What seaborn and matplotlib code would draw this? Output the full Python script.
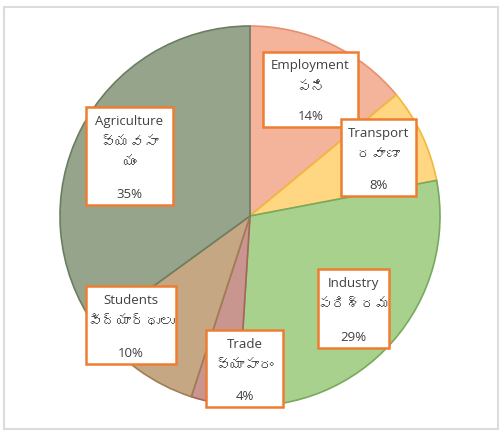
import matplotlib
matplotlib.use("Agg")
import matplotlib.pyplot as plt
from matplotlib import font_manager
from matplotlib.ft2font import FT2Font
from matplotlib.patches import Rectangle
import seaborn as sns

# data
categories = ["Employment", "Transport", "Industry", "Trade", "Students", "Agriculture"]
telugu = ["పని", "రవాణా", "పరిశ్రమ", "వ్యాపారం", "విద్యార్థులు", "వ్యవసా\nయం"]
shares = [14, 8, 29, 4, 10, 35]
colors = ["#F4B39B", "#FFD681", "#A9D18E", "#C9958F", "#C6A784", "#95A48B"]
edges = ["#E8906F", "#F2B93B", "#78A95C", "#A9635C", "#A07E55", "#6C7E62"]

# look for any installed font with Telugu glyphs
tel_font = None
for f in font_manager.fontManager.ttflist:
    try:
        if 0x0C2A in FT2Font(f.fname).get_charmap():
            tel_font = f.name
            break
    except Exception:
        pass

sns.set_style("white")
plt.rcParams["font.family"] = ["Open Sans", "DejaVu Sans"]
tel_family = [tel_font, "DejaVu Sans"] if tel_font else ["DejaVu Sans"]

W, H = 502, 436
CX, CY, R = 250, 216, 190

def px(x, y):
    # pixel position in the image -> data coordinates
    return (x - CX) / R, (CY - y) / R

fig = plt.figure(figsize=(W / 100, H / 100), dpi=100)
ax = fig.add_axes([0, 0, 1, 1])

wedges, _ = ax.pie(shares, colors=colors, startangle=90, counterclock=False,
                   radius=1.0, wedgeprops=dict(linewidth=1.2))
for w, ec in zip(wedges, edges):
    w.set_edgecolor(ec)

ax.set_aspect("auto")
ax.set_xlim(-CX / R, (W - CX) / R)
ax.set_ylim(-(H - CY) / R, CY / R)
ax.axis("off")

# label boxes: left, top, right, bottom in pixels
boxes = [(263, 52, 358, 127), (341, 119, 416, 196), (318, 269, 389, 348),
         (206, 330, 283, 407), (86, 286, 176, 364), (86, 107, 173, 205)]
for cat, tel, val, (l, t, r, b) in zip(categories, telugu, shares, boxes):
    x0, y0 = px(l, b)
    x1, y1 = px(r, t)
    ax.add_patch(Rectangle((x0, y0), x1 - x0, y1 - y0, fc="white",
                           ec="#ED7D31", lw=1.8, zorder=3))
    xc = (l + r) / 2
    ax.text(*px(xc, t + 14), cat, ha="center", va="center", fontsize=9.5,
            color="#404040", zorder=4)
    tel_lines = tel.split("\n")
    ty = t + 36
    for line in tel_lines:
        ax.text(*px(xc, ty), line, ha="center", va="center", fontsize=10.5,
                color="#404040", family=tel_family, zorder=4)
        ty += 20
    ax.text(*px(xc, b - 11), f"{val}%", ha="center", va="center",
            fontsize=9.5, color="#404040", zorder=4)

# outer light frame
fig.patches.append(Rectangle((4 / W, 7 / H), 494 / W, 422 / H,
                             transform=fig.transFigure, fill=False,
                             ec="#DCDCDC", lw=1.5))

fig.savefig("out.png", dpi=100)
